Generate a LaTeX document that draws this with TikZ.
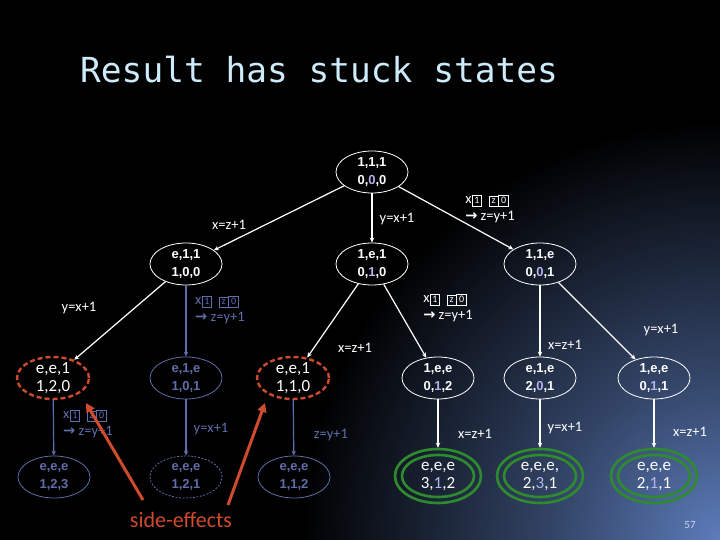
\documentclass[tikz,border=0pt]{standalone}
\usepackage{fontspec}
\setmainfont{Carlito}
\newfontfamily\titlefont{DejaVu Sans Mono}
\newfontfamily\pixelfont{Liberation Sans}
\newfontfamily\symbolfont{DejaVu Sans}
\usetikzlibrary{shapes.geometric, arrows.meta}

% Boxed placeholder glyph
\newcommand{\gbox}[1]{{\setlength{\fboxsep}{2pt}\setlength{\fboxrule}{0.8pt}\fbox{\fontsize{10}{10}\selectfont #1}}}

\begin{document}
\begin{tikzpicture}[x=1pt, y=-1pt]
  % Define colours
  \definecolor{lineColour}{HTML}{FFFFFF}
  \definecolor{stuckColour}{HTML}{5F6DAA}
  \definecolor{sideColour}{HTML}{D04A2E}
  \definecolor{finalColour}{HTML}{2E8B2E}
  \definecolor{titleColour}{HTML}{CDEBFA}
  \definecolor{midColour}{HTML}{B4B4EE}
  \definecolor{cornerColour}{HTML}{5C7CBA}
  \definecolor{pageColour}{HTML}{C8D4F0}

  % Define the corner glow (the circle edge sits at 25bp)
  \pgfdeclareradialshading{cornerGlow}{\pgfpoint{0bp}{0bp}}{%
    color(0bp)=(cornerColour); color(10bp)=(cornerColour!55!black);
    color(25bp)=(black); color(50bp)=(black)}

  % Define styles
  \tikzset{
    state/.style={ellipse, draw=lineColour, text=white, line width=0.8pt,
      minimum width=72pt, minimum height=42pt, inner sep=-3pt, align=center,
      font=\pixelfont\bfseries\fontsize{13}{18}\selectfont},
    stuckState/.style={state, draw=stuckColour, text=stuckColour},
    sideState/.style={state, draw=sideColour, line width=2.4pt, dash pattern=on 5pt off 3pt,
      font=\fontsize{17}{18}\selectfont},
    finalState/.style={state, draw=finalColour, line width=2.6pt,
      minimum width=86pt, minimum height=54pt, font=\fontsize{17}{18}\selectfont},
    activeLink/.style={draw=lineColour, line width=1.2pt, -{Stealth[length=5pt, width=4.5pt]}},
    stuckLink/.style={activeLink, draw=stuckColour},
    linkLabel/.style={text=white, inner sep=0pt, align=left, font=\fontsize{14.5}{17}\selectfont},
    stuckLabel/.style={linkLabel, text=stuckColour},
    sideArrow/.style={draw=sideColour, line width=3pt, -{Triangle[length=9pt, width=9pt]}}
  }

  % Define the guard text
  \def\guard{x\gbox{1}\ \ \gbox{z}\gbox{0}\\{\symbolfont\textbf{→}} z=y+1}

  % Fix the frame and the background
  \useasboundingbox (0,0) rectangle (720,540);
  \fill[black] (0,0) rectangle (720,540);
  \begin{scope}
    \clip (0,0) rectangle (720,540);
    \shade[shading=cornerGlow] (720,540) circle[radius=420pt];
  \end{scope}

  % Title
  \node[text=titleColour, inner sep=0pt, anchor=base west,
    font=\titlefont\fontsize{34.5}{40}\selectfont] (title) at (80,83) {Result has stuck states};

  % Draw the states
  \node[state] (s0) at (372,172) {1,1,1\\0,{\color{midColour}0},0};

  \node[state] (s1a) at (186,264) {e,1,1\\1,0,0};
  \node[state] (s1b) at (372,264) {1,e,1\\0,{\color{midColour}1},0};
  \node[state] (s1c) at (540,264) {1,1,e\\0,{\color{midColour}0},1};

  \node[sideState] (s2a) at (53,378) {e,e,1\\1,2,0};
  \node[stuckState] (s2b) at (186,378) {e,1,e\\1,0,1};
  \node[sideState] (s2c) at (293,378) {e,e,1\\1,1,0};
  \node[state] (s2d) at (438,378) {1,e,e\\0,{\color{midColour}1},2};
  \node[state] (s2e) at (540,378) {e,1,e\\2,{\color{midColour}0},1};
  \node[state] (s2f) at (654,378) {1,e,e\\0,{\color{midColour}1},1};

  \node[stuckState] (s3a) at (54,477) {e,e,e\\1,2,3};
  \node[stuckState, dash pattern=on 2pt off 1.5pt] (s3b) at (186,477) {e,e,e\\1,2,1};
  \node[stuckState] (s3c) at (294,477) {e,e,e\\1,1,2};
  \node[finalState] (s3d) at (438,476) {e,e,e\\3,{\color{midColour}1},2};
  \node[finalState] (s3e) at (540,476) {e,e,e,\\2,{\color{midColour}3},1};
  \node[finalState] (s3f) at (654,476) {e,e,e\\2,{\color{midColour}1},1};

  % Inner rings of the final states
  \foreach \n in {s3d,s3e,s3f}
    \draw[finalColour, line width=2.6pt] (\n.center) ellipse[x radius=36pt, y radius=21pt];

  % Draw the transitions
  \draw[activeLink] (s0) -- (s1a);
  \draw[activeLink] (s0) -- (s1b);
  \draw[activeLink] (s0) -- (s1c);
  \draw[activeLink] (s1a) -- (s2a);
  \draw[stuckLink] (s1a) -- (s2b);
  \draw[activeLink] (s1b) -- (s2c);
  \draw[activeLink] (s1b) -- (s2d);
  \draw[activeLink] (s1c) -- (s2e);
  \draw[activeLink] (s1c) -- (s2f);
  \draw[stuckLink] (s2a) -- (s3a);
  \draw[stuckLink] (s2b) -- (s3b);
  \draw[stuckLink] (s2c) -- (s3c);
  \draw[activeLink] (s2d) -- (s3d);
  \draw[activeLink] (s2e) -- (s3e);
  \draw[activeLink] (s2f) -- (s3f);

  % Label the transitions
  \node[linkLabel] (l0a) at (229,225) {x=z+1};
  \node[linkLabel] (l0b) at (397,219) {y=x+1};
  \node[linkLabel] (l0c) at (490,209) {\guard};
  \node[linkLabel] (l1a) at (79,308) {y=x+1};
  \node[stuckLabel] (l1b) at (220,310) {\guard};
  \node[linkLabel] (l1c) at (355,348) {x=z+1};
  \node[linkLabel] (l1d) at (448,308) {\guard};
  \node[linkLabel] (l1e) at (565,345) {x=z+1};
  \node[linkLabel] (l1f) at (661,330) {y=x+1};
  \node[stuckLabel] (l2a) at (88,424) {\guard};
  \node[stuckLabel] (l2b) at (211,429) {y=x+1};
  \node[stuckLabel] (l2c) at (331,435) {z=y+1};
  \node[linkLabel] (l2d) at (475,434) {x=z+1};
  \node[linkLabel] (l2e) at (565,428) {y=x+1};
  \node[linkLabel] (l2f) at (690,432) {x=z+1};

  % Point out the side-effects
  \node[text=sideColour, inner sep=0pt, anchor=base, font=\fontsize{22}{24}\selectfont]
    (side) at (181,527) {side-effects};
  \coordinate (sideTailL) at (143,500);
  \coordinate (sideHeadL) at (86,403);
  \coordinate (sideTailR) at (228,505);
  \coordinate (sideHeadR) at (265,403);
  \draw[sideArrow] (sideTailL) -- (sideHeadL);
  \draw[sideArrow] (sideTailR) -- (sideHeadR);

  % Page number
  \node[text=pageColour, inner sep=0pt, font=\fontsize{11}{12}\selectfont] (page) at (690,525) {57};

\end{tikzpicture}
\end{document}
